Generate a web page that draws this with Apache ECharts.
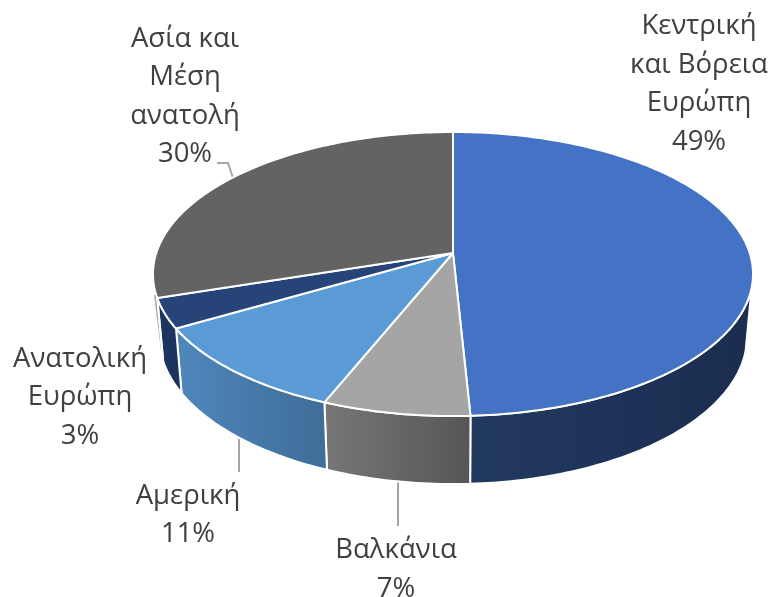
<!DOCTYPE html>
<html>
<head>
<meta charset="utf-8">
<style>html,body{margin:0;padding:0;background:#fff}#c{width:772px;height:597px}</style>
<script src="https://cdn.jsdelivr.net/npm/echarts@6/dist/echarts.min.js"></script>
</head>
<body>
<div id="c"></div>
<script>
const categories = ['Κεντρική\nκαι Βόρεια\nΕυρώπη', 'Βαλκάνια', 'Αμερική', 'Ανατολική\nΕυρώπη', 'Ασία και\nΜέση\nανατολή'];
const percentValues = [49.2, 6.9, 10.5, 3.4, 30];
const topColors = ['#4472c4', '#a5a5a5', '#5b9bd5', '#264478', '#636363'];
const wallColors = [['#22395f', '#1a2d50'], ['#777777', '#565656'], ['#4f87bc', '#3e6d98'], ['#1c3560', '#1c3560'], ['#3b3b3b', '#3b3b3b']];
const labelCentres = [[699, 84], [396, 569.5], [188, 515], [80, 397.5], [185, 96.5]];
const leaderLines = [
  [[398, 482], [398, 526]],
  [[239, 438], [239, 472]],
  [[155, 295], [162, 350]],
  [[217, 163], [228, 163], [233, 178]]
];

// projected pie geometry
const apex = [453, 253], K = 0.148, RX = 296.7, RY = 138.9;
const WALL_FROM = 104, WALL_TO = 252;
const SX = 0.98, SY = 1.04, DY = 61.5;
const total = percentValues.reduce((a, b) => a + b, 0);

function rim(deg) {
  const t = deg * Math.PI / 180, x = Math.sin(t), y = -Math.cos(t), w = 1 - K * y;
  return [RX * x / w, RY * y / w];
}
function topPt(deg) { const p = rim(deg); return [apex[0] + p[0], apex[1] + p[1]]; }
function botPt(deg) { const p = rim(deg); return [apex[0] + SX * p[0], apex[1] + SY * p[1] + DY]; }
function arc(fn, a, b) {
  const out = [], n = Math.max(2, Math.ceil(Math.abs(b - a)));
  for (let i = 0; i <= n; i++) out.push(fn(a + (b - a) * i / n));
  return out;
}

function renderItem(params, api) {
  const i = params.dataIndex;
  let before = 0;
  for (let j = 0; j < i; j++) before += percentValues[j];
  const a0 = before / total * 360;
  const a1 = a0 + api.value(0) / total * 360;
  const children = [];
  const w0 = Math.max(a0, WALL_FROM), w1 = Math.min(a1, WALL_TO);
  if (w1 > w0) {
    children.push({
      type: 'polygon', z2: 2,
      shape: { points: arc(topPt, w0, w1).concat(arc(botPt, w1, w0)) },
      style: {
        fill: new echarts.graphic.LinearGradient(0, 0, 1, 0, [
          { offset: 0, color: wallColors[i][0] }, { offset: 1, color: wallColors[i][1] }
        ]),
        stroke: '#fff', lineWidth: 2, lineJoin: 'round'
      }
    });
  }
  children.push({
    type: 'polygon', z2: 3,
    shape: { points: [apex].concat(arc(topPt, a0, a1)) },
    style: { fill: topColors[i], stroke: '#fff', lineWidth: 2, lineJoin: 'round' }
  });
  children.push({
    type: 'text', z2: 4,
    style: {
      x: labelCentres[i][0], y: labelCentres[i][1],
      text: categories[i] + '\n' + Math.round(api.value(0)) + '%',
      align: 'center', verticalAlign: 'middle',
      fontFamily: '"Open Sans", sans-serif', fontSize: 27.5, lineHeight: 38.5, fill: '#404040'
    }
  });
  return { type: 'group', children };
}

const chart = echarts.init(document.getElementById('c'), null, { renderer: 'canvas' });
chart.setOption({
  animation: false,
  backgroundColor: '#fff',
  graphic: leaderLines.map(pts => ({
    type: 'polyline', z: 1, silent: true,
    shape: { points: pts },
    style: { fill: null, stroke: '#a6a6a6', lineWidth: 2 }
  })),
  series: [{
    type: 'custom', coordinateSystem: 'none', z: 2, silent: true,
    renderItem,
    data: percentValues.map(v => [v])
  }]
});
</script>
</body>
</html>
